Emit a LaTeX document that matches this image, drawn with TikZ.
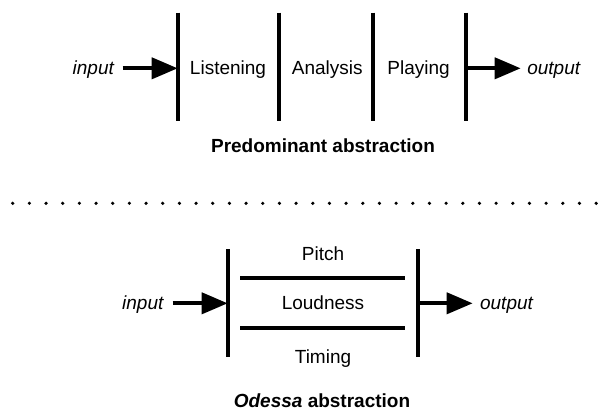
\documentclass[tikz,border=0pt]{standalone}
\usepackage{fontspec}
\setmainfont{Liberation Sans}
\usetikzlibrary{arrows.meta}
\begin{document}
\begin{tikzpicture}[x=1pt,y=-1pt,
  bar/.style={line width=3.8pt},
  arr/.style={line width=3.8pt,-{Triangle[length=26pt 0 0,width=21pt 0 0]}},
  lbl/.style={inner sep=0pt,anchor=base,font=\fontsize{19}{22}\selectfont},
  dotmark/.style={fill=black},
]
\useasboundingbox (0,0) rectangle (608,410);
% ---------- top: predominant abstraction ----------
\coordinate (v1t) at (177.7,12.7); \coordinate (v1b) at (177.7,120.7);
\coordinate (v2t) at (279.3,12.7); \coordinate (v2b) at (279.3,120.7);
\coordinate (v3t) at (373.3,12.7); \coordinate (v3b) at (373.3,120.7);
\coordinate (v4t) at (465.7,12.7); \coordinate (v4b) at (465.7,120.7);
\foreach \v in {v1,v2,v3,v4} \draw[bar] (\v t) -- (\v b);
\node[lbl] (in1) at (93.3,74.7) {\itshape input};
\node[lbl] (listen) at (228,74.7) {Listening};
\node[lbl] (analysis) at (327.2,74.7) {Analysis};
\node[lbl] (playing) at (418.6,74.7) {Playing};
\node[lbl] (out1) at (553.7,74.7) {\itshape output};
\coordinate (a1s) at (122.7,68.3);
\coordinate (a2e) at (520.7,68.3);
\draw[arr] (a1s) -- (a1s -| v1t);
\draw[arr] (a2e -| v4t) -- (a2e);
\node[lbl] (title1) at (323,152.7) {\bfseries Predominant abstraction};
% ---------- dotted separator ----------
\foreach \i in {0,...,35} \fill[dotmark] (12.7+16.67*\i,203.3) circle (1.8);
% ---------- bottom: Odessa abstraction ----------
\coordinate (w1t) at (227.7,249.3); \coordinate (w1b) at (227.7,356.7);
\coordinate (w2t) at (418.3,249.3); \coordinate (w2b) at (418.3,356.7);
\draw[bar] (w1t) -- (w1b);
\draw[bar] (w2t) -- (w2b);
\coordinate (h1s) at (240,277.7); \coordinate (h1e) at (405,277.7);
\coordinate (h2s) at (240,328.3); \coordinate (h2e) at (405,328.3);
\draw[bar] (h1s) -- (h1e);
\draw[bar] (h2s) -- (h2e);
\node[lbl] (pitch) at (323,260) {Pitch};
\node[lbl] (loud) at (323,309.3) {Loudness};
\node[lbl] (timing) at (323,363.5) {Timing};
\node[lbl] (in2) at (142.8,309.3) {\itshape input};
\node[lbl] (out2) at (506.5,309.3) {\itshape output};
\coordinate (b1s) at (172.7,303.3);
\coordinate (b2e) at (472.7,303.3);
\draw[arr] (b1s) -- (b1s -| w1t);
\draw[arr] (b2e -| w2t) -- (b2e);
\node[lbl] (title2) at (322,407.3) {\bfseries\itshape Odessa\upshape{} abstraction};
\end{tikzpicture}
\end{document}
